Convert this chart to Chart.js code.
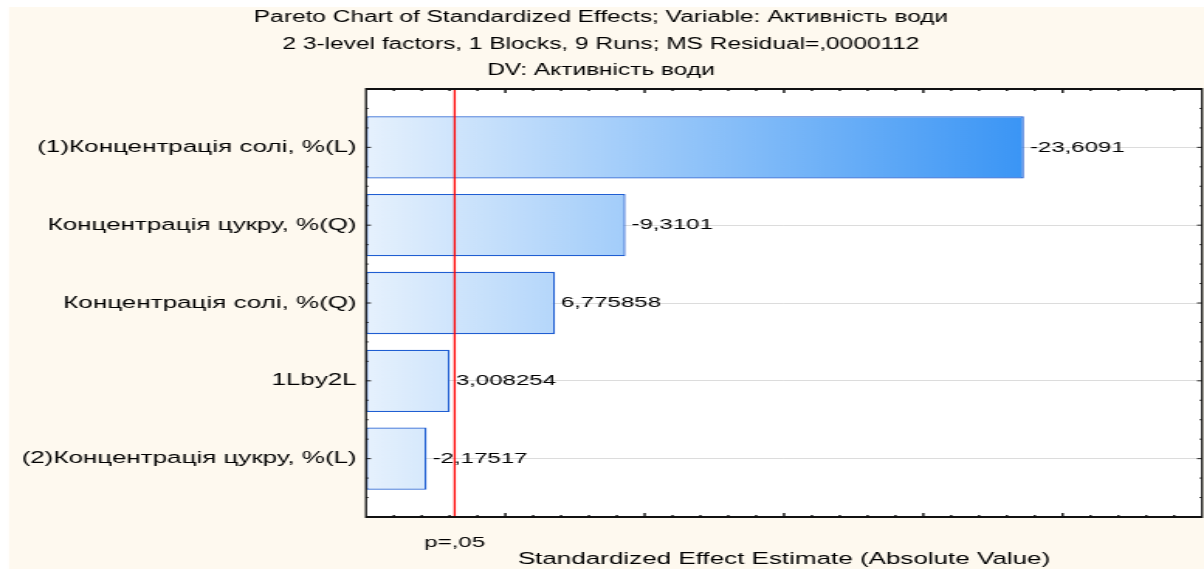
<!DOCTYPE html>
<html>
<head>
<meta charset="utf-8">
<script src="https://cdn.jsdelivr.net/npm/chart.js@4.4.1/dist/chart.umd.min.js"></script>
<style>
  html, body { margin: 0; padding: 0; background: #ffffff; overflow: hidden; }
  /* the graph is laid out narrow and widened horizontally, like a stretched Statistica plot */
  #wrap { position: absolute; left: 0; top: 0; width: 777px; height: 569px;
          transform: scaleX(1.549549); transform-origin: 0 0; }
  canvas { display: block; }
</style>
</head>
<body>
<div id="wrap"><canvas id="pareto" width="777" height="569"></canvas></div>
<script>
// Effects, in the order they are listed on the chart
const categories = [
  '(1)Концентрація солі, %(L)',
  'Концентрація цукру, %(Q)',
  'Концентрація солі, %(Q)',
  '1Lby2L',
  '(2)Концентрація цукру, %(L)'
];
const effects = [-23.6091, -9.3101, 6.775858, 3.008254, -2.17517];
const positions = [1, 2, 3, 4, 5];

// critical t for p = .05 with 3 residual df
const criticalT = 3.182446;
const criticalLabel = 'p=,05';

const titleLines = [
  'Pareto Chart of Standardized Effects; Variable: Активність води',
  '2 3-level factors, 1 Blocks, 9 Runs; MS Residual=,0000112',
  'DV: Активність води'
];
const xTitle = 'Standardized Effect Estimate (Absolute Value)';

const xRange = [0, 30];
const yRange = [0.25, 5.75];

const SX = 1.549549;          // horizontal widening of the drawing
const FONT = '"Liberation Sans", Arial, sans-serif';
const FONT_SIZE = 15.5;
const LABEL_SIZE = 16.8;
const TITLE_SIZE = 15.8;

const absEffects = effects.map(Math.abs);
const maxEffect = Math.max(...absEffects);
const fmt = v => String(v).replace('.', ',');

Chart.defaults.font.family = FONT;
Chart.defaults.font.size = FONT_SIZE;
Chart.defaults.color = '#000000';

const backdrop = {
  id: 'backdrop',
  beforeDraw(chart) {
    const { ctx, chartArea: a, width, height } = chart;
    ctx.save();
    ctx.fillStyle = '#ffffff';
    ctx.fillRect(0, 0, width, height);
    ctx.fillStyle = '#fef9ef';
    ctx.fillRect(9 / SX, 7, width, height);
    ctx.fillStyle = '#ffffff';
    ctx.fillRect(a.left, a.top, a.right - a.left, a.bottom - a.top);
    ctx.restore();
  }
};

const overlay = {
  id: 'overlay',
  afterDatasetsDraw(chart) {
    const { ctx, chartArea: a, scales: { x, y } } = chart;
    ctx.save();

    // significance line
    const cx = x.getPixelForValue(criticalT);
    ctx.strokeStyle = '#ff0000';
    ctx.lineWidth = 2 / SX;
    ctx.beginPath();
    ctx.moveTo(cx, a.top);
    ctx.lineTo(cx, a.bottom);
    ctx.stroke();

    // value labels at the bar ends
    ctx.fillStyle = '#000000';
    ctx.font = FONT_SIZE + 'px ' + FONT;
    ctx.textAlign = 'left';
    ctx.textBaseline = 'middle';
    effects.forEach((v, i) => {
      const px = x.getPixelForValue(Math.abs(v)) + 6 / SX;
      const py = y.getPixelForValue(positions[i]);
      ctx.fillText(fmt(v), px, py);
    });

    // frame
    ctx.strokeStyle = '#111111';
    ctx.lineWidth = 2;
    ctx.beginPath();
    ctx.moveTo(a.left, a.top); ctx.lineTo(a.right, a.top);
    ctx.moveTo(a.left, a.bottom); ctx.lineTo(a.right, a.bottom);
    ctx.stroke();
    ctx.lineWidth = 2 / SX;
    ctx.beginPath();
    ctx.moveTo(a.left, a.top - 1); ctx.lineTo(a.left, a.bottom + 1);
    ctx.moveTo(a.right, a.top - 1); ctx.lineTo(a.right, a.bottom + 1);
    ctx.stroke();

    // inward tick marks: x every 1 (major every 5), y every 0.25 (major at each effect)
    ctx.lineWidth = 1.4;
    ctx.beginPath();
    for (let v = xRange[0] + 1; v < xRange[1]; v++) {
      const px = x.getPixelForValue(v);
      const len = v % 5 === 0 ? 4 : 2;
      ctx.moveTo(px, a.top); ctx.lineTo(px, a.top + len);
      ctx.moveTo(px, a.bottom); ctx.lineTo(px, a.bottom - len);
    }
    ctx.stroke();
    ctx.lineWidth = 1.4 / SX;
    ctx.beginPath();
    for (let k = 1; k < (yRange[1] - yRange[0]) / 0.25; k++) {
      const v = yRange[0] + k * 0.25;
      const py = y.getPixelForValue(v);
      const len = (Number.isInteger(v) ? 5 : 2.5) / SX;
      ctx.moveTo(a.left, py); ctx.lineTo(a.left + len, py);
      ctx.moveTo(a.right, py); ctx.lineTo(a.right - len, py);
    }
    ctx.stroke();
    ctx.restore();
  }
};

new Chart(document.getElementById('pareto'), {
  type: 'bar',
  data: {
    datasets: [{
      data: absEffects.map((v, i) => ({ x: v, y: positions[i] })),
      backgroundColor(ctx) {
        const chart = ctx.chart;
        if (!chart.chartArea) return '#9fcbfa';
        const xs = chart.scales.x;
        const g = chart.ctx.createLinearGradient(xs.getPixelForValue(0), 0, xs.getPixelForValue(maxEffect), 0);
        g.addColorStop(0, '#e6f1fd');
        g.addColorStop(1, '#3a95f5');
        return g;
      },
      borderColor: '#1f5ed2',
      borderWidth: 1.3,
      borderSkipped: false,
      barPercentage: 0.8,
      categoryPercentage: 1
    }]
  },
  options: {
    indexAxis: 'y',
    responsive: false,
    animation: false,
    devicePixelRatio: 1,
    layout: { padding: { left: 0, right: 777 - 1202 / SX, top: 0, bottom: 0 } },
    plugins: {
      legend: { display: false },
      tooltip: { enabled: false },
      title: {
        display: true,
        text: titleLines,
        color: '#000000',
        font: { size: TITLE_SIZE, weight: 'normal', lineHeight: 26.5 / TITLE_SIZE },
        padding: { top: 4.5, bottom: 5 }
      }
    },
    scales: {
      x: {
        type: 'linear',
        position: 'bottom',
        min: xRange[0],
        max: xRange[1],
        grid: { display: false },
        border: { display: false },
        afterBuildTicks(scale) { scale.ticks = [{ value: criticalT }]; },
        afterFit(scale) { scale.height = 569 - 517; },
        ticks: {
          padding: 8.5,
          font: { size: FONT_SIZE, lineHeight: 1.2 },
          maxRotation: 0,
          callback: v => (Math.abs(v - criticalT) < 1e-9 ? criticalLabel : '')
        },
        title: {
          display: true,
          text: xTitle,
          color: '#000000',
          font: { size: LABEL_SIZE, lineHeight: 1.2 },
          padding: { top: 0, bottom: 0 }
        }
      },
      y: {
        type: 'linear',
        position: 'left',
        reverse: true,
        offset: false,
        min: yRange[0],
        max: yRange[1],
        afterBuildTicks(scale) { scale.ticks = positions.map(v => ({ value: v })); },
        afterFit(scale) { scale.width = 366 / SX; },
        border: { display: false },
        grid: {
          offset: false,
          drawTicks: false,
          lineWidth: 1,
          color: '#dcdcdc'
        },
        ticks: {
          autoSkip: false,
          padding: 6,
          font: { size: LABEL_SIZE },
          callback: (v, i) => categories[i]
        }
      }
    }
  },
  plugins: [backdrop, overlay]
});
</script>
</body>
</html>
